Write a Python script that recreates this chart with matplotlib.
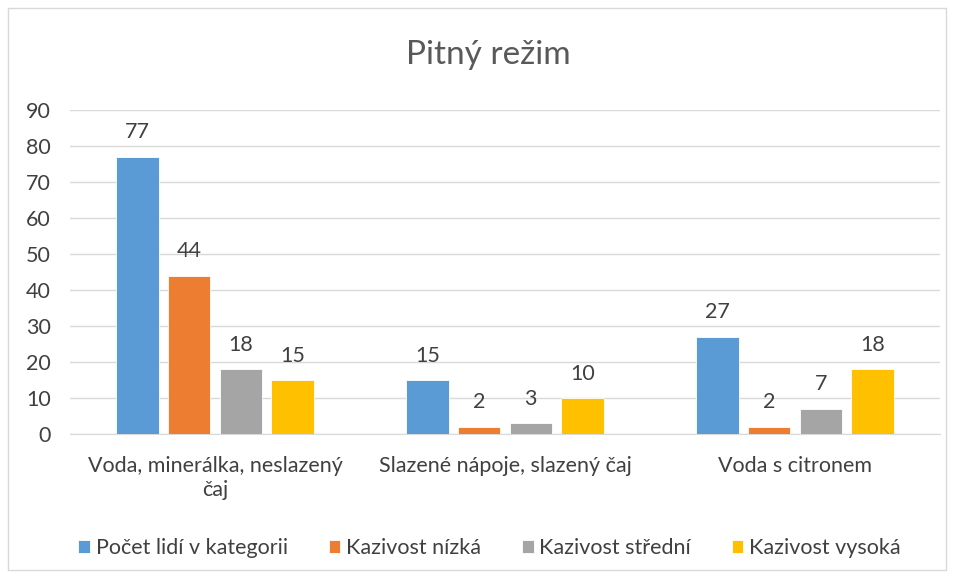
import matplotlib.pyplot as plt
import numpy as np

plt.rcParams['font.family'] = ['Lato', 'DejaVu Sans']

categories = ["Voda, minerálka, neslazený\nčaj", "Slazené nápoje, slazený čaj", "Voda s citronem"]
series = ["Počet lidí v kategorii", "Kazivost nízká", "Kazivost střední", "Kazivost vysoká"]
values = [
    [77, 15, 27],
    [44, 2, 2],
    [18, 3, 7],
    [15, 10, 18],
]
colors = ["#5B9BD5", "#ED7D31", "#A5A5A5", "#FFC000"]

fig = plt.figure(figsize=(9.54, 5.78), dpi=100)
# thin border around the chart area
fig.patches.append(plt.Rectangle((8 / 954, 8 / 578), 938 / 954, 562 / 578, transform=fig.transFigure,
                                 fill=False, edgecolor="#D9D9D9", linewidth=1))
ax = fig.add_axes([70 / 954, 1 - 434 / 578, 870 / 954, 324 / 578])

x = np.arange(len(categories))
step = 0.178
width = 0.146
text_col = "#404040"
fs = 15.5
for i, (name, vals, c) in enumerate(zip(series, values, colors)):
    pos = x + (i - 1.5) * step
    bars = ax.bar(pos, vals, width, color=c, edgecolor="white", linewidth=0.6, label=name, zorder=3)
    for b, v in zip(bars, vals):
        ax.text(b.get_x() + b.get_width() / 2, v + 4.0, str(v), ha="center", va="bottom",
                fontsize=fs, color=text_col)

ax.set_xlim(-0.5, 2.5)
ax.set_ylim(0, 90)
ax.set_yticks(np.arange(0, 91, 10))
ax.yaxis.grid(True, color="#D9D9D9", linewidth=1, zorder=0)
ax.set_axisbelow(True)
for s in ["top", "right", "left"]:
    ax.spines[s].set_visible(False)
ax.spines["bottom"].set_color("#D9D9D9")
ax.tick_params(axis="both", length=0, labelsize=fs, colors=text_col)
ax.tick_params(axis="y", pad=14)
ax.tick_params(axis="x", pad=16)
ax.set_xticks(x)
ax.set_xticklabels(categories, linespacing=1.25)

fig.text(0.512, 1 - 55 / 578, "Pitný režim", ha="center", va="center", fontsize=24, color="#595959")

fig.legend(loc="center", bbox_to_anchor=(0.513, 1 - 548 / 578), ncol=4, frameon=False,
           fontsize=fs, labelcolor=text_col, handlelength=0.55, handleheight=0.55,
           handletextpad=0.25, columnspacing=1.9)

fig.savefig("out.png", dpi=100)
